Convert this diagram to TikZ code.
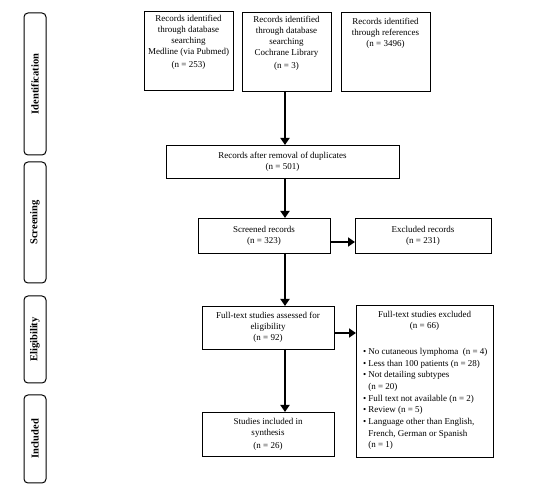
\documentclass[tikz,border=0pt]{standalone}
\usepackage{fontspec}
\setmainfont{Liberation Serif}
\usetikzlibrary{arrows.meta}
\begin{document}
\begin{tikzpicture}[x=1pt,y=-1pt,
 box/.style={draw, line width=0.9pt, inner sep=0pt, outer sep=0pt},
 txt/.style={font=\fontsize{9}{11}\selectfont, align=center, inner sep=0pt},
 side/.style={draw, line width=1pt, rounded corners=4pt, inner sep=0pt, minimum width=22pt},
 sidetxt/.style={font=\fontsize{10.5}{12}\selectfont\bfseries, rotate=90, inner sep=0pt},
 arr/.style={line width=2.6pt, -{Triangle[length=7pt,width=9pt]}}]
\useasboundingbox (0,0) rectangle (550,492);
% side labels
\node[side, minimum height=142pt] (sid) at (35,84) {};
\node[sidetxt] (sidt) at (sid.center) {Identification};
\node[side, minimum height=121pt] (sscr) at (35,222.5) {};
\node[sidetxt] (sscrt) at (sscr.center) {Screening};
\node[side, minimum height=87pt] (sel) at (35,339.5) {};
\node[sidetxt] (selt) at (sel.center) {Eligibility};
\node[side, minimum height=88pt] (sinc) at (35,439) {};
\node[sidetxt] (sinct) at (sinc.center) {Included};
% identification boxes
\node[box, minimum width=89pt, minimum height=79pt] (med) at (188.5,50.5) {};
\node[txt, anchor=north] (medt) at ([yshift=-4pt]med.north) {Records identified\\through database\\searching\\Medline (via Pubmed)\\[2pt](n = 253)};
\node[box, minimum width=89pt, minimum height=79pt] (coch) at (286.5,51.5) {};
\node[txt, anchor=north] (cocht) at ([yshift=-4pt]coch.north) {Records identified\\through database\\searching\\Cochrane Library\\[2pt](n = 3)};
\node[box, minimum width=89pt, minimum height=79pt] (refs) at (385.5,51.5) {};
\node[txt, anchor=north] (refst) at ([yshift=-6pt]refs.north) {Records identified\\through references\\(n = 3496)};
% screening
\node[box, txt, minimum width=233pt, minimum height=33pt] (dup) at (282.5,161.5) {Records after removal of duplicates\\(n = 501)};
\node[box, txt, minimum width=132pt, minimum height=35pt] (scr) at (264,235.5) {Screened records\\(n = 323)};
\node[box, txt, minimum width=136pt, minimum height=35pt] (exc) at (423,235.5) {Excluded records\\(n = 231)};
% eligibility
\node[box, txt, minimum width=132pt, minimum height=43pt] (ft) at (268,327.5) {Full-text studies assessed for\\eligibility\\(n = 92)};
\node[box, minimum width=137pt, minimum height=152pt] (ftex) at (424.5,381) {};
\node[txt, anchor=north] (ftexh) at ([yshift=-6pt]ftex.north) {Full-text studies excluded\\(n = 66)};
\node[txt, anchor=north west, align=left, font=\fontsize{9}{11.7}\selectfont] (ftexl) at ([xshift=7pt,yshift=-41pt]ftex.north west) {%
\begin{tabular}{@{}l@{\hspace{2pt}}l@{}}
• & No cutaneous lymphoma~ (n = 4)\\
• & Less than 100 patients (n = 28)\\
• & Not detailing subtypes\\
 & (n = 20)\\
• & Full text not available (n = 2)\\
• & Review (n = 5)\\
• & Language other than English,\\
 & French, German or Spanish\\
 & (n = 1)
\end{tabular}};
% included
\node[box, txt, minimum width=132pt, minimum height=44pt] (inc) at (268,434) {Studies included in\\synthesis\\[2pt](n = 26)};
% arrows
\coordinate (spine) at (285,0);
\draw[arr] (coch.south -| spine) -- (dup.north -| spine);
\draw[arr] (dup.south -| spine) -- (scr.north -| spine);
\draw[arr] ([yshift=-6.5pt]scr.east) -- ([yshift=-6.5pt]scr.east -| exc.west);
\draw[arr] (scr.south -| spine) -- (ft.north -| spine);
\draw[arr] ([yshift=-5.5pt]ft.east) -- ([yshift=-5.5pt]ft.east -| ftex.west);
\draw[arr] (ft.south -| spine) -- (inc.north -| spine);
\end{tikzpicture}
\end{document}
